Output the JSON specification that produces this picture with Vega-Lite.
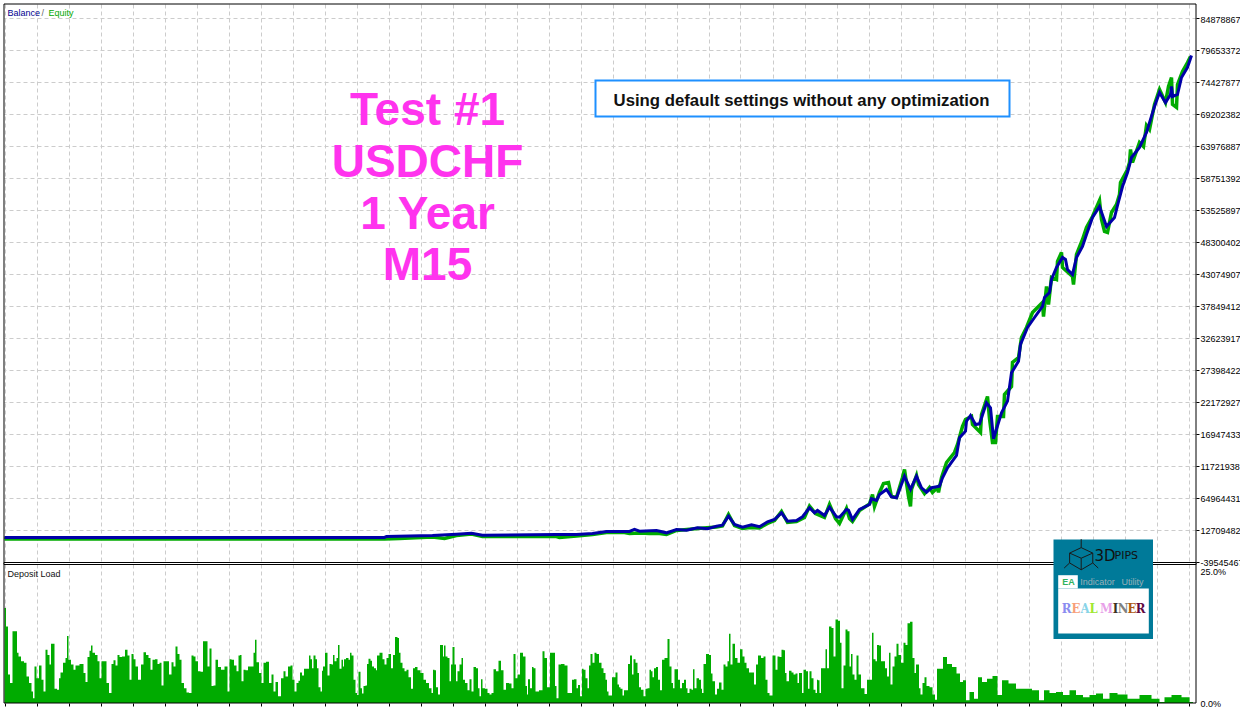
{"$schema":"https://vega.github.io/schema/vega-lite/v6.json","width":1192,"height":699,"autosize":"none","padding":{"left":4,"top":4,"right":44,"bottom":4},"background":"#ffffff","view":{"stroke":null},
"datasets":{
"load":[{"bar":5,"load":18.0},{"bar":8,"load":14.5},{"bar":9,"load":5.4},{"bar":12,"load":3.8},{"bar":14,"load":13.6},{"bar":17,"load":13.6},{"bar":18,"load":9.5},{"bar":20,"load":8.8},{"bar":23,"load":7.9},{"bar":26,"load":7.6},{"bar":28,"load":5.0},{"bar":31,"load":3.8},{"bar":33,"load":2.2},{"bar":34,"load":0.9},{"bar":36,"load":6.9},{"bar":38,"load":4.7},{"bar":41,"load":7.1},{"bar":43,"load":4.4},{"bar":45,"load":2.2},{"bar":47,"load":10.1},{"bar":49,"load":9.1},{"bar":51,"load":7.3},{"bar":52,"load":11.2},{"bar":54,"load":11.2},{"bar":56,"load":2.7},{"bar":59,"load":2.5},{"bar":60,"load":4.7},{"bar":62,"load":5.8},{"bar":65,"load":7.6},{"bar":67,"load":8.5},{"bar":68,"load":12.7},{"bar":70,"load":8.2},{"bar":73,"load":7.3},{"bar":75,"load":6.3},{"bar":77,"load":7.1},{"bar":83,"load":7.4},{"bar":85,"load":5.7},{"bar":87,"load":4.0},{"bar":89,"load":8.7},{"bar":91,"load":9.9},{"bar":92,"load":10.9},{"bar":94,"load":9.5},{"bar":97,"load":9.1},{"bar":99,"load":7.9},{"bar":101,"load":4.7},{"bar":103,"load":7.9},{"bar":106,"load":7.9},{"bar":108,"load":3.8},{"bar":111,"load":1.9},{"bar":113,"load":7.4},{"bar":115,"load":8.1},{"bar":117,"load":7.1},{"bar":119,"load":9.1},{"bar":121,"load":8.7},{"bar":124,"load":8.8},{"bar":127,"load":10.1},{"bar":129,"load":9.0},{"bar":131,"load":4.4},{"bar":133,"load":9.3},{"bar":135,"load":8.3},{"bar":137,"load":6.9},{"bar":140,"load":4.4},{"bar":143,"load":7.3},{"bar":145,"load":9.6},{"bar":148,"load":9.1},{"bar":150,"load":8.5},{"bar":152,"load":6.3},{"bar":154,"load":8.2},{"bar":157,"load":8.3},{"bar":159,"load":7.4},{"bar":161,"load":7.6},{"bar":163,"load":3.3},{"bar":165,"load":7.9},{"bar":168,"load":7.9},{"bar":171,"load":5.4},{"bar":173,"load":7.7},{"bar":175,"load":6.9},{"bar":177,"load":10.7},{"bar":179,"load":9.3},{"bar":181,"load":8.2},{"bar":183,"load":3.8},{"bar":186,"load":2.8},{"bar":188,"load":2.0},{"bar":191,"load":1.9},{"bar":193,"load":9.0},{"bar":195,"load":8.8},{"bar":197,"load":7.9},{"bar":200,"load":6.0},{"bar":202,"load":5.9},{"bar":205,"load":11.7},{"bar":207,"load":11.7},{"bar":209,"load":6.9},{"bar":211,"load":10.3},{"bar":213,"load":3.2},{"bar":215,"load":3.3},{"bar":217,"load":8.2},{"bar":220,"load":6.8},{"bar":223,"load":6.3},{"bar":227,"load":6.9},{"bar":229,"load":2.2},{"bar":231,"load":8.3},{"bar":233,"load":8.2},{"bar":236,"load":7.1},{"bar":238,"load":6.0},{"bar":240,"load":9.0},{"bar":241,"load":9.1},{"bar":243,"load":4.1},{"bar":245,"load":6.3},{"bar":247,"load":6.2},{"bar":250,"load":6.9},{"bar":253,"load":6.9},{"bar":255,"load":9.5},{"bar":256,"load":12.0},{"bar":258,"load":7.7},{"bar":261,"load":5.7},{"bar":263,"load":3.8},{"bar":265,"load":7.6},{"bar":268,"load":7.8},{"bar":271,"load":3.8},{"bar":273,"load":5.4},{"bar":275,"load":2.2},{"bar":277,"load":4.0},{"bar":280,"load":1.3},{"bar":283,"load":4.7},{"bar":285,"load":6.0},{"bar":287,"load":5.0},{"bar":290,"load":6.9},{"bar":292,"load":7.1},{"bar":294,"load":4.4},{"bar":296,"load":2.2},{"bar":298,"load":3.8},{"bar":300,"load":4.2},{"bar":301,"load":5.8},{"bar":304,"load":5.2},{"bar":305,"load":6.5},{"bar":309,"load":6.5},{"bar":310,"load":9.0},{"bar":312,"load":8.3},{"bar":313,"load":6.6},{"bar":315,"load":9.0},{"bar":317,"load":8.3},{"bar":318,"load":6.6},{"bar":320,"load":3.0},{"bar":322,"load":2.2},{"bar":323,"load":6.1},{"bar":324,"load":6.9},{"bar":327,"load":9.5},{"bar":329,"load":5.2},{"bar":331,"load":7.4},{"bar":333,"load":7.3},{"bar":334,"load":9.1},{"bar":336,"load":7.9},{"bar":338,"load":8.5},{"bar":339,"load":11.0},{"bar":341,"load":6.5},{"bar":343,"load":8.2},{"bar":344,"load":6.9},{"bar":345,"load":8.3},{"bar":348,"load":8.5},{"bar":350,"load":8.2},{"bar":351,"load":9.5},{"bar":353,"load":9.0},{"bar":355,"load":4.4},{"bar":357,"load":1.9},{"bar":358,"load":1.5},{"bar":360,"load":5.9},{"bar":362,"load":2.8},{"bar":363,"load":1.8},{"bar":365,"load":3.2},{"bar":367,"load":3.3},{"bar":368,"load":7.4},{"bar":370,"load":8.4},{"bar":372,"load":8.0},{"bar":373,"load":6.9},{"bar":376,"load":6.6},{"bar":377,"load":6.2},{"bar":378,"load":9.0},{"bar":382,"load":9.5},{"bar":384,"load":8.3},{"bar":386,"load":7.3},{"bar":388,"load":8.5},{"bar":390,"load":9.3},{"bar":393,"load":6.6},{"bar":394,"load":9.1},{"bar":397,"load":12.5},{"bar":399,"load":12.3},{"bar":400,"load":9.5},{"bar":402,"load":7.6},{"bar":404,"load":6.6},{"bar":406,"load":6.0},{"bar":408,"load":6.3},{"bar":410,"load":4.9},{"bar":413,"load":2.7},{"bar":414,"load":6.6},{"bar":417,"load":6.8},{"bar":419,"load":6.2},{"bar":423,"load":5.7},{"bar":425,"load":4.4},{"bar":428,"load":3.8},{"bar":431,"load":2.8},{"bar":433,"load":1.9},{"bar":434,"load":6.3},{"bar":436,"load":6.2},{"bar":437,"load":3.0},{"bar":440,"load":1.6},{"bar":441,"load":11.0},{"bar":443,"load":11.0},{"bar":444,"load":8.8},{"bar":445,"load":10.9},{"bar":447,"load":8.8},{"bar":449,"load":8.5},{"bar":451,"load":4.1},{"bar":452,"load":7.3},{"bar":454,"load":10.6},{"bar":456,"load":7.3},{"bar":457,"load":4.1},{"bar":459,"load":6.0},{"bar":461,"load":7.3},{"bar":463,"load":8.5},{"bar":464,"load":4.4},{"bar":467,"load":3.8},{"bar":469,"load":2.4},{"bar":471,"load":4.5},{"bar":473,"load":2.2},{"bar":475,"load":6.8},{"bar":478,"load":6.6},{"bar":479,"load":2.8},{"bar":481,"load":1.3},{"bar":482,"load":4.5},{"bar":484,"load":2.8},{"bar":487,"load":2.7},{"bar":489,"load":1.9},{"bar":491,"load":1.6},{"bar":493,"load":1.9},{"bar":495,"load":6.4},{"bar":498,"load":6.0},{"bar":500,"load":8.0},{"bar":503,"load":6.2},{"bar":505,"load":2.5},{"bar":508,"load":3.8},{"bar":511,"load":3.7},{"bar":513,"load":2.8},{"bar":515,"load":9.3},{"bar":517,"load":4.7},{"bar":519,"load":5.4},{"bar":522,"load":9.5},{"bar":525,"load":8.8},{"bar":527,"load":3.2},{"bar":528,"load":1.6},{"bar":529,"load":4.5},{"bar":532,"load":2.8},{"bar":533,"load":6.8},{"bar":535,"load":6.6},{"bar":537,"load":2.2},{"bar":542,"load":2.4},{"bar":544,"load":9.8},{"bar":546,"load":8.5},{"bar":549,"load":3.0},{"bar":552,"load":9.5},{"bar":555,"load":9.5},{"bar":556,"load":3.2},{"bar":558,"load":0.9},{"bar":560,"load":7.3},{"bar":563,"load":7.4},{"bar":567,"load":7.1},{"bar":569,"load":1.9},{"bar":572,"load":1.9},{"bar":573,"load":4.4},{"bar":576,"load":4.5},{"bar":578,"load":2.8},{"bar":579,"load":3.4},{"bar":582,"load":1.3},{"bar":583,"load":6.5},{"bar":585,"load":6.3},{"bar":587,"load":4.7},{"bar":589,"load":2.8},{"bar":590,"load":7.1},{"bar":592,"load":9.3},{"bar":594,"load":7.6},{"bar":596,"load":9.5},{"bar":598,"load":9.3},{"bar":601,"load":7.6},{"bar":603,"load":6.6},{"bar":605,"load":5.7},{"bar":607,"load":4.4},{"bar":608,"load":2.2},{"bar":610,"load":1.4},{"bar":612,"load":1.4},{"bar":613,"load":4.9},{"bar":615,"load":4.9},{"bar":617,"load":5.8},{"bar":619,"load":3.5},{"bar":620,"load":3.0},{"bar":622,"load":2.7},{"bar":624,"load":1.4},{"bar":625,"load":2.4},{"bar":628,"load":2.4},{"bar":629,"load":7.4},{"bar":632,"load":9.0},{"bar":633,"load":5.4},{"bar":635,"load":8.3},{"bar":637,"load":7.6},{"bar":639,"load":5.7},{"bar":640,"load":3.0},{"bar":643,"load":2.5},{"bar":645,"load":1.3},{"bar":647,"load":2.7},{"bar":649,"load":2.8},{"bar":651,"load":6.3},{"bar":652,"load":6.0},{"bar":654,"load":4.9},{"bar":655,"load":6.6},{"bar":658,"load":6.8},{"bar":659,"load":4.4},{"bar":662,"load":2.4},{"bar":663,"load":8.2},{"bar":667,"load":8.5},{"bar":669,"load":12.1},{"bar":671,"load":6.9},{"bar":673,"load":3.8},{"bar":674,"load":2.8},{"bar":676,"load":6.4},{"bar":678,"load":6.4},{"bar":679,"load":4.4},{"bar":682,"load":2.8},{"bar":683,"load":3.8},{"bar":686,"load":4.4},{"bar":687,"load":2.8},{"bar":689,"load":1.9},{"bar":691,"load":2.7},{"bar":693,"load":2.5},{"bar":694,"load":6.4},{"bar":696,"load":2.8},{"bar":698,"load":4.7},{"bar":701,"load":4.4},{"bar":702,"load":2.7},{"bar":703,"load":1.9},{"bar":705,"load":7.4},{"bar":708,"load":9.3},{"bar":711,"load":9.1},{"bar":712,"load":5.6},{"bar":714,"load":4.1},{"bar":717,"load":1.6},{"bar":718,"load":2.7},{"bar":721,"load":3.9},{"bar":723,"load":2.5},{"bar":725,"load":7.3},{"bar":727,"load":6.9},{"bar":729,"load":7.9},{"bar":730,"load":13.1},{"bar":732,"load":7.3},{"bar":734,"load":11.2},{"bar":737,"load":8.5},{"bar":739,"load":7.6},{"bar":742,"load":10.2},{"bar":744,"load":8.8},{"bar":746,"load":7.6},{"bar":748,"load":6.6},{"bar":751,"load":5.8},{"bar":753,"load":5.8},{"bar":756,"load":3.5},{"bar":757,"load":7.3},{"bar":760,"load":9.0},{"bar":763,"load":8.5},{"bar":765,"load":8.8},{"bar":767,"load":4.4},{"bar":769,"load":1.9},{"bar":771,"load":1.4},{"bar":775,"load":9.0},{"bar":777,"load":6.3},{"bar":779,"load":8.8},{"bar":781,"load":8.7},{"bar":783,"load":10.1},{"bar":785,"load":10.0},{"bar":786,"load":5.7},{"bar":788,"load":4.1},{"bar":791,"load":6.1},{"bar":793,"load":5.8},{"bar":795,"load":5.4},{"bar":797,"load":5.6},{"bar":799,"load":3.8},{"bar":800,"load":5.7},{"bar":802,"load":5.7},{"bar":803,"load":1.9},{"bar":805,"load":6.3},{"bar":808,"load":6.0},{"bar":809,"load":2.7},{"bar":811,"load":6.0},{"bar":813,"load":4.7},{"bar":815,"load":2.5},{"bar":817,"load":1.9},{"bar":818,"load":4.4},{"bar":819,"load":4.3},{"bar":821,"load":1.9},{"bar":822,"load":6.6},{"bar":825,"load":6.6},{"bar":827,"load":10.2},{"bar":828,"load":6.6},{"bar":831,"load":14.5},{"bar":833,"load":14.2},{"bar":835,"load":8.8},{"bar":837,"load":15.8},{"bar":840,"load":15.6},{"bar":841,"load":11.4},{"bar":843,"load":2.8},{"bar":845,"load":7.1},{"bar":847,"load":13.9},{"bar":849,"load":13.6},{"bar":851,"load":6.9},{"bar":852,"load":9.3},{"bar":854,"load":5.4},{"bar":856,"load":4.4},{"bar":858,"load":9.0},{"bar":860,"load":5.4},{"bar":863,"load":2.8},{"bar":867,"load":1.7},{"bar":868,"load":4.4},{"bar":872,"load":4.4},{"bar":873,"load":13.3},{"bar":875,"load":8.3},{"bar":877,"load":7.9},{"bar":878,"load":11.0},{"bar":881,"load":10.9},{"bar":882,"load":7.9},{"bar":885,"load":7.9},{"bar":886,"load":6.6},{"bar":889,"load":5.0},{"bar":890,"load":9.5},{"bar":892,"load":3.5},{"bar":894,"load":6.9},{"bar":896,"load":8.8},{"bar":898,"load":11.2},{"bar":900,"load":9.1},{"bar":903,"load":7.6},{"bar":905,"load":11.4},{"bar":907,"load":11.0},{"bar":909,"load":15.1},{"bar":912,"load":15.4},{"bar":914,"load":8.5},{"bar":916,"load":5.7},{"bar":917,"load":7.3},{"bar":919,"load":7.3},{"bar":920,"load":2.8},{"bar":922,"load":1.6},{"bar":924,"load":3.8},{"bar":926,"load":4.9},{"bar":928,"load":3.2},{"bar":932,"load":3.0},{"bar":934,"load":1.6},{"bar":937,"load":0.6},{"bar":938,"load":6.5},{"bar":942,"load":6.5},{"bar":945,"load":8.7},{"bar":950,"load":7.4},{"bar":955,"load":6.8},{"bar":959,"load":5.6},{"bar":962,"load":4.0},{"bar":965,"load":4.3},{"bar":968,"load":0.5},{"bar":972,"load":2.1},{"bar":977,"load":0.8},{"bar":980,"load":4.9},{"bar":985,"load":4.0},{"bar":990,"load":4.6},{"bar":996,"load":5.1},{"bar":1000,"load":1.5},{"bar":1005,"load":4.3},{"bar":1013,"load":3.7},{"bar":1020,"load":2.7},{"bar":1028,"load":2.7},{"bar":1037,"load":2.4},{"bar":1042,"load":0.5},{"bar":1047,"load":2.4},{"bar":1053,"load":1.9},{"bar":1060,"load":2.1},{"bar":1067,"load":1.5},{"bar":1073,"load":2.4},{"bar":1080,"load":1.5},{"bar":1087,"load":1.1},{"bar":1093,"load":1.5},{"bar":1100,"load":1.8},{"bar":1107,"load":0.8},{"bar":1113,"load":1.9},{"bar":1123,"load":1.6},{"bar":1133,"load":0.8},{"bar":1147,"load":1.5},{"bar":1157,"load":0.8},{"bar":1163,"load":0.2},{"bar":1167,"load":1.1},{"bar":1177,"load":1.5},{"bar":1187,"load":1.1},{"bar":1193,"load":0.2},{"bar":1194,"load":0}],
"balance":[{"bar":5,"v":60000},{"bar":385,"v":60000},{"bar":387,"v":210000},{"bar":433,"v":380000},{"bar":457,"v":590000},{"bar":472,"v":750000},{"bar":483,"v":420000},{"bar":557,"v":540000},{"bar":577,"v":540000},{"bar":593,"v":700000},{"bar":607,"v":1030000},{"bar":630,"v":1030000},{"bar":635,"v":1360000},{"bar":640,"v":1080000},{"bar":657,"v":1190000},{"bar":667,"v":810000},{"bar":677,"v":1360000},{"bar":687,"v":1240000},{"bar":698,"v":1630000},{"bar":708,"v":1470000},{"bar":717,"v":1890000},{"bar":723,"v":2060000},{"bar":729,"v":3530000},{"bar":735,"v":2170000},{"bar":743,"v":1730000},{"bar":752,"v":2120000},{"bar":760,"v":1800000},{"bar":768,"v":2610000},{"bar":775,"v":2990000},{"bar":782,"v":4080000},{"bar":788,"v":2710000},{"bar":797,"v":2830000},{"bar":803,"v":3430000},{"bar":810,"v":4900000},{"bar":815,"v":4080000},{"bar":818,"v":4460000},{"bar":825,"v":3640000},{"bar":830,"v":5000000},{"bar":837,"v":3430000},{"bar":840,"v":3360000},{"bar":847,"v":4620000},{"bar":849,"v":4510000},{"bar":853,"v":2990000},{"bar":860,"v":4620000},{"bar":870,"v":5440000},{"bar":872,"v":6370000},{"bar":877,"v":6090000},{"bar":880,"v":7070000},{"bar":887,"v":7890000},{"bar":892,"v":6690000},{"bar":897,"v":6530000},{"bar":905,"v":10060000},{"bar":911,"v":7890000},{"bar":917,"v":10060000},{"bar":922,"v":8170000},{"bar":927,"v":7450000},{"bar":932,"v":8170000},{"bar":940,"v":8430000},{"bar":943,"v":9800000},{"bar":948,"v":11430000},{"bar":957,"v":13440000},{"bar":960,"v":16330000},{"bar":966,"v":17410000},{"bar":967,"v":19040000},{"bar":971,"v":19970000},{"bar":976,"v":18500000},{"bar":980,"v":18610000},{"bar":987,"v":22040000},{"bar":991,"v":21230000},{"bar":994,"v":16170000},{"bar":1002,"v":20410000},{"bar":1008,"v":22310000},{"bar":1012,"v":26940000},{"bar":1019,"v":28830000},{"bar":1021,"v":31570000},{"bar":1028,"v":34340000},{"bar":1035,"v":35970000},{"bar":1043,"v":37770000},{"bar":1045,"v":39240000},{"bar":1050,"v":40060000},{"bar":1052,"v":42180000},{"bar":1057,"v":44140000},{"bar":1063,"v":45770000},{"bar":1066,"v":45440000},{"bar":1068,"v":43810000},{"bar":1073,"v":43000000},{"bar":1077,"v":45770000},{"bar":1083,"v":47570000},{"bar":1087,"v":49530000},{"bar":1093,"v":52300000},{"bar":1100,"v":54100000},{"bar":1107,"v":50830000},{"bar":1115,"v":52300000},{"bar":1118,"v":54260000},{"bar":1123,"v":57360000},{"bar":1128,"v":59650000},{"bar":1132,"v":62100000},{"bar":1140,"v":63740000},{"bar":1147,"v":66190000},{"bar":1155,"v":70430000},{"bar":1160,"v":72720000},{"bar":1166,"v":71080000},{"bar":1171,"v":72390000},{"bar":1172,"v":73700000},{"bar":1173,"v":72060000},{"bar":1178,"v":72390000},{"bar":1182,"v":75170000},{"bar":1188,"v":76800000},{"bar":1192,"v":78760000}],
"equity":[{"bar":5,"v":-200000},{"bar":385,"v":-200000},{"bar":400,"v":-110000},{"bar":433,"v":130000},{"bar":445,"v":-110000},{"bar":457,"v":370000},{"bar":472,"v":620000},{"bar":483,"v":210000},{"bar":557,"v":210000},{"bar":560,"v":50000},{"bar":577,"v":290000},{"bar":593,"v":540000},{"bar":607,"v":870000},{"bar":625,"v":870000},{"bar":630,"v":700000},{"bar":640,"v":790000},{"bar":650,"v":700000},{"bar":660,"v":700000},{"bar":667,"v":540000},{"bar":677,"v":1190000},{"bar":698,"v":1520000},{"bar":717,"v":1760000},{"bar":723,"v":1930000},{"bar":729,"v":3810000},{"bar":735,"v":2010000},{"bar":743,"v":1520000},{"bar":750,"v":1680000},{"bar":760,"v":1600000},{"bar":768,"v":2330000},{"bar":775,"v":2830000},{"bar":782,"v":4300000},{"bar":788,"v":2500000},{"bar":797,"v":2660000},{"bar":805,"v":3310000},{"bar":810,"v":5190000},{"bar":816,"v":3970000},{"bar":825,"v":3310000},{"bar":830,"v":5440000},{"bar":836,"v":3150000},{"bar":840,"v":2330000},{"bar":847,"v":4780000},{"bar":850,"v":3150000},{"bar":853,"v":2660000},{"bar":860,"v":4460000},{"bar":870,"v":5520000},{"bar":873,"v":7070000},{"bar":875,"v":5110000},{"bar":880,"v":7400000},{"bar":884,"v":8870000},{"bar":889,"v":9030000},{"bar":892,"v":6740000},{"bar":897,"v":6580000},{"bar":903,"v":9840000},{"bar":905,"v":11150000},{"bar":909,"v":6740000},{"bar":911,"v":5110000},{"bar":912,"v":7890000},{"bar":917,"v":10170000},{"bar":919,"v":8700000},{"bar":925,"v":7230000},{"bar":930,"v":8210000},{"bar":933,"v":7400000},{"bar":938,"v":8210000},{"bar":939,"v":7400000},{"bar":942,"v":9830000},{"bar":947,"v":12290000},{"bar":955,"v":13930000},{"bar":958,"v":15240000},{"bar":963,"v":18180000},{"bar":966,"v":19320000},{"bar":972,"v":19810000},{"bar":973,"v":18500000},{"bar":981,"v":17200000},{"bar":982,"v":20130000},{"bar":988,"v":23070000},{"bar":990,"v":19480000},{"bar":993,"v":15560000},{"bar":996,"v":15560000},{"bar":998,"v":19810000},{"bar":1004,"v":19810000},{"bar":1005,"v":23400000},{"bar":1012,"v":24710000},{"bar":1013,"v":28630000},{"bar":1019,"v":29440000},{"bar":1022,"v":32710000},{"bar":1027,"v":34340000},{"bar":1033,"v":36790000},{"bar":1043,"v":38420000},{"bar":1044,"v":36130000},{"bar":1047,"v":41040000},{"bar":1049,"v":38090000},{"bar":1052,"v":42500000},{"bar":1057,"v":42180000},{"bar":1058,"v":45120000},{"bar":1062,"v":46590000},{"bar":1063,"v":44140000},{"bar":1073,"v":42670000},{"bar":1074,"v":41360000},{"bar":1077,"v":46260000},{"bar":1083,"v":48710000},{"bar":1087,"v":50670000},{"bar":1093,"v":52470000},{"bar":1100,"v":55080000},{"bar":1102,"v":51980000},{"bar":1105,"v":50020000},{"bar":1108,"v":49860000},{"bar":1112,"v":53120000},{"bar":1117,"v":54430000},{"bar":1120,"v":56060000},{"bar":1121,"v":58020000},{"bar":1128,"v":60140000},{"bar":1130,"v":61280000},{"bar":1131,"v":63410000},{"bar":1133,"v":61280000},{"bar":1140,"v":64550000},{"bar":1144,"v":63900000},{"bar":1147,"v":67330000},{"bar":1150,"v":66670000},{"bar":1155,"v":70760000},{"bar":1160,"v":73200000},{"bar":1166,"v":71080000},{"bar":1169,"v":73700000},{"bar":1172,"v":75170000},{"bar":1173,"v":70760000},{"bar":1177,"v":70270000},{"bar":1178,"v":74020000},{"bar":1183,"v":76140000},{"bar":1188,"v":77610000},{"bar":1191,"v":78590000}],
"titles":[{"t":"Test #1","bar":428,"v":69611000},{"t":"USDCHF","bar":428,"v":61282000},{"t":"1 Year","bar":428,"v":52791000},{"t":"M15","bar":428,"v":44300000}],
"letters":[{"t":"R","k":"a","bar":1067,"v":-11710000},{"t":"E","k":"b","bar":1076.5,"v":-11710000},{"t":"A","k":"c","bar":1085.5,"v":-11710000},{"t":"L","k":"d","bar":1094,"v":-11710000},{"t":"M","k":"e","bar":1107,"v":-11710000},{"t":"I","k":"f","bar":1116,"v":-11710000},{"t":"N","k":"g","bar":1123.5,"v":-11710000},{"t":"E","k":"h","bar":1132.5,"v":-11710000},{"t":"R","k":"i","bar":1141,"v":-11710000}]
},
"encoding":{"x":{"field":"bar","type":"quantitative","scale":{"domain":[4.5,1196.5],"nice":false,"zero":false},"axis":{"values":[5,37,69,101,133,165,197,229,261,293,325,357,389,421,453,485,517,549,581,613,645,677,709,741,773,805,837,869,901,933,965,997,1029,1061,1093,1125,1157,1189],"grid":true,"gridColor":"#cccccc","gridDash":[4,3],"gridWidth":1,"domain":false,"ticks":true,"tickSize":3,"tickColor":"#000000","labels":false,"title":null}}},
"layer":[
{"layer":[
{"data":{"name":"load"},"mark":{"type":"area","interpolate":"step","color":"#00ab00"},"encoding":{"y":{"field":"load","type":"quantitative","scale":{"domain":[0,132.39],"nice":false,"zero":false},"axis":{"orient":"right","values":[0,25],"grid":false,"domain":false,"ticks":false,"labelExpr":"format(datum.value,'.1f')+'%'","labelFont":"Liberation Sans","labelFontSize":9,"labelColor":"#000000","labelPadding":4,"labelOverlap":false,"labelBound":false,"labelFlush":false,"title":null}}}}
]},
{"layer":[
{"data":{"name":"equity"},"mark":{"type":"line","color":"#00ab00","strokeWidth":3.5,"interpolate":"linear"},"encoding":{"y":{"field":"v","type":"quantitative","scale":{"domain":[-26979578,87165026],"nice":false,"zero":false},"axis":{"orient":"right","values":[84878867,79653372,74427877,69202382,63976887,58751392,53525897,48300402,43074907,37849412,32623917,27398422,22172927,16947433,11721938,6496443,1270948,-3954546],"labelExpr":"datum.value==6496443?'64964431':datum.value==1270948?'12709482':datum.value==-3954546?'-39545467':''+datum.value","grid":true,"gridColor":"#cccccc","gridDash":[4,3],"gridWidth":1,"domain":false,"ticks":true,"tickSize":3,"tickColor":"#000000","labelFont":"Liberation Sans","labelFontSize":9,"labelColor":"#000000","labelPadding":1,"labelOffset":1,"labelOverlap":false,"labelBound":false,"labelFlush":false,"title":null}}}},
{"data":{"name":"balance"},"mark":{"type":"line","color":"#0000a8","strokeWidth":3,"interpolate":"linear"},"encoding":{"y":{"field":"v","type":"quantitative"}}},
{"data":{"values":[{"bar":4.5,"bar2":1196.5,"v":87165026,"v2":-26979578}]},"mark":{"type":"rect","fill":null,"stroke":"#000000","strokeWidth":1},"encoding":{"x2":{"field":"bar2"},"y":{"field":"v","type":"quantitative"},"y2":{"field":"v2"}}},
{"data":{"values":[{"bar":4.5,"bar2":1196.5,"v":-4036350,"v2":-4362944}]},"mark":{"type":"rect","fill":"#ffffff","stroke":"#000000","strokeWidth":1},"encoding":{"x2":{"field":"bar2"},"y":{"field":"v","type":"quantitative"},"y2":{"field":"v2"}}},
{"data":{"values":[{"bar":596,"bar2":1010,"v":74670000,"v2":68790000}]},"mark":{"type":"rect","fill":"#ffffff","stroke":"#1e90ff","strokeWidth":2},"encoding":{"x2":{"field":"bar2"},"y":{"field":"v","type":"quantitative"},"y2":{"field":"v2"}}},
{"data":{"values":[{"t":"Using default settings without any optimization","bar":802,"v":71400000}]},"mark":{"type":"text","font":"Liberation Sans","fontWeight":"bold","fontSize":16.75,"color":"#111111","align":"center","baseline":"middle"},"encoding":{"text":{"field":"t"},"y":{"field":"v","type":"quantitative"}}},
{"data":{"name":"titles"},"mark":{"type":"text","font":"Liberation Sans","fontWeight":"bold","fontSize":46,"color":"#ff33ee","align":"center","baseline":"middle"},"encoding":{"text":{"field":"t"},"y":{"field":"v","type":"quantitative"}}},
{"data":{"values":[{"t":"Balance","bar":8,"v":85620000}]},"mark":{"type":"text","font":"Liberation Sans","fontSize":9,"color":"#000090","align":"left","baseline":"middle"},"encoding":{"text":{"field":"t"},"y":{"field":"v","type":"quantitative"}}},
{"data":{"values":[{"t":"/","bar":42,"v":85620000}]},"mark":{"type":"text","font":"Liberation Sans","fontSize":9,"color":"#666666","align":"left","baseline":"middle"},"encoding":{"text":{"field":"t"},"y":{"field":"v","type":"quantitative"}}},
{"data":{"values":[{"t":"Equity","bar":49,"v":85620000}]},"mark":{"type":"text","font":"Liberation Sans","fontSize":9,"color":"#00a800","align":"left","baseline":"middle"},"encoding":{"text":{"field":"t"},"y":{"field":"v","type":"quantitative"}}},
{"data":{"values":[{"t":"Deposit Load","bar":8,"v":-5990000}]},"mark":{"type":"text","font":"Liberation Sans","fontSize":9,"color":"#111111","align":"left","baseline":"middle"},"encoding":{"text":{"field":"t"},"y":{"field":"v","type":"quantitative"}}},
{"data":{"values":[{"bar":1054,"bar2":1153.5,"v":-280000,"v2":-16530000}]},"mark":{"type":"rect","fill":"#007a99"},"encoding":{"x2":{"field":"bar2"},"y":{"field":"v","type":"quantitative"},"y2":{"field":"v2"}}},
{"data":{"values":[{"bar":1058.7,"bar2":1149.3,"v":-8280000,"v2":-15630000}]},"mark":{"type":"rect","fill":"#ffffff"},"encoding":{"x2":{"field":"bar2"},"y":{"field":"v","type":"quantitative"},"y2":{"field":"v2"}}},
{"data":{"values":[{"bar":1058.7,"bar2":1078.3,"v":-6110000,"v2":-8280000}]},"mark":{"type":"rect","fill":"#ffffff"},"encoding":{"x2":{"field":"bar2"},"y":{"field":"v","type":"quantitative"},"y2":{"field":"v2"}}},
{"data":{"values":[{"bar":1081.7,"v":-3000000}]},"mark":{"type":"point","shape":"M0,-1L0,-.5L.68,-.18L.68,.4L0,.8L-.68,.4L-.68,-.18L0,-.5M0,.12L.68,-.18M0,.12L-.68,-.18M0,.12L0,.8M.68,.4L1,.7M-.68,.4L-1,.7","size":1160,"filled":false,"stroke":"#1a1a1a","strokeWidth":1,"opacity":1},"encoding":{"y":{"field":"v","type":"quantitative"}}},
{"data":{"values":[{"t":"3D","bar":1095,"v":-2900000}]},"mark":{"type":"text","font":"DejaVu Sans","fontSize":15,"color":"#111111","align":"left","baseline":"middle"},"encoding":{"text":{"field":"t"},"y":{"field":"v","type":"quantitative"}}},
{"data":{"values":[{"t":"PIPS","bar":1115,"v":-2900000}]},"mark":{"type":"text","font":"DejaVu Sans","fontSize":11,"color":"#111111","align":"left","baseline":"middle"},"encoding":{"text":{"field":"t"},"y":{"field":"v","type":"quantitative"}}},
{"data":{"values":[{"t":"EA","bar":1069,"v":-7140000}]},"mark":{"type":"text","font":"Liberation Sans","fontWeight":"bold","fontSize":9,"color":"#2fb35f","align":"center","baseline":"middle"},"encoding":{"text":{"field":"t"},"y":{"field":"v","type":"quantitative"}}},
{"data":{"values":[{"t":"Indicator","bar":1098,"v":-7140000}]},"mark":{"type":"text","font":"Liberation Sans","fontSize":9,"color":"#9ab0b8","align":"center","baseline":"middle"},"encoding":{"text":{"field":"t"},"y":{"field":"v","type":"quantitative"}}},
{"data":{"values":[{"t":"Utility","bar":1133,"v":-7140000}]},"mark":{"type":"text","font":"Liberation Sans","fontSize":9,"color":"#9ab0b8","align":"center","baseline":"middle"},"encoding":{"text":{"field":"t"},"y":{"field":"v","type":"quantitative"}}},
{"data":{"name":"letters"},"mark":{"type":"text","font":"DejaVu Serif Condensed","fontWeight":"bold","fontSize":13,"align":"center","baseline":"middle"},"encoding":{"text":{"field":"t"},"y":{"field":"v","type":"quantitative"},"color":{"field":"k","type":"nominal","legend":null,"scale":{"domain":["a","b","c","d","e","f","g","h","i"],"range":["#8a8cf0","#f7a07a","#88d4e8","#a0e830","#e8a0e8","#3a3020","#808080","#b05a10","#600840"]}}}}
]}
],
"resolve":{"scale":{"y":"independent"}}}
